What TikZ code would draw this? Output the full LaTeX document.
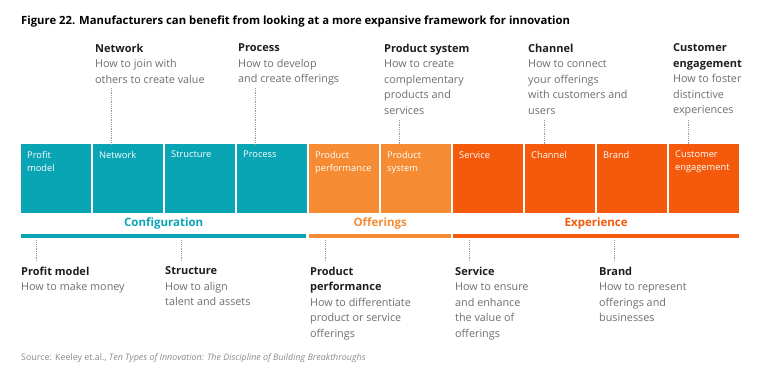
\documentclass[tikz,border=0pt]{standalone}
\usepackage{fontspec}
\setmainfont{Open Sans}
\definecolor{cfg}{HTML}{0AA5B4}
\definecolor{off}{HTML}{F58C33}
\definecolor{exp}{HTML}{F5590B}
\definecolor{desc}{HTML}{6E6E6E}
\definecolor{ttl}{HTML}{1E1E1E}
\definecolor{dotc}{HTML}{9A9A9A}
\begin{document}
\begin{tikzpicture}[x=1pt,y=-1pt,
  box/.style={minimum width=70pt, minimum height=69pt, inner sep=0pt, anchor=north west, draw=none},
  boxtxt/.style={anchor=north west, inner sep=0pt, text=white, align=left, font=\fontsize{9.3}{13}\selectfont},
  note/.style={anchor=north west, inner sep=0pt, align=left, text=desc, font=\fontsize{10.8}{15.5}\selectfont},
  bar/.style={minimum height=4pt, inner sep=0pt, anchor=north west, draw=none},
  cat/.style={anchor=base, inner sep=0pt, font=\bfseries\fontsize{11.5}{14}\selectfont},
  dots/.style={dotc, densely dotted, line width=0.8pt}
]
\newcommand{\ttlf}[1]{{\color{ttl}\bfseries\fontsize{11}{15.5}\selectfont #1}}
\useasboundingbox (0,0) rectangle (769,370);
\fill[white] (0,0) rectangle (769,370);

% heading
\node[anchor=base west, inner sep=0pt, text=black, font=\bfseries\fontsize{11.3}{13}\selectfont] (head) at (21,24)
  {Figure 22. Manufacturers can benefit from looking at a more expansive framework for innovation};

% boxes
\node[box, fill=cfg] (b1) at (21,144) {};
\node[box, fill=cfg] (b2) at (93,144) {};
\node[box, fill=cfg] (b3) at (165,144) {};
\node[box, fill=cfg] (b4) at (237,144) {};
\node[box, fill=off] (b5) at (309,144) {};
\node[box, fill=off] (b6) at (381,144) {};
\node[box, fill=exp] (b7) at (453,144) {};
\node[box, fill=exp] (b8) at (525,144) {};
\node[box, fill=exp] (b9) at (597,144) {};
\node[box, fill=exp] (b10) at (669,144) {};

\node[boxtxt] (t1) at ([xshift=6pt,yshift=-7pt]b1.north west) {Profit\\model};
\node[boxtxt] (t2) at ([xshift=6pt,yshift=-7pt]b2.north west) {Network};
\node[boxtxt] (t3) at ([xshift=6pt,yshift=-7pt]b3.north west) {Structure};
\node[boxtxt] (t4) at ([xshift=6pt,yshift=-7pt]b4.north west) {Process};
\node[boxtxt] (t5) at ([xshift=6pt,yshift=-7pt]b5.north west) {Product\\performance};
\node[boxtxt] (t6) at ([xshift=6pt,yshift=-7pt]b6.north west) {Product\\system};
\node[boxtxt] (t7) at ([xshift=6pt,yshift=-7pt]b7.north west) {Service};
\node[boxtxt] (t8) at ([xshift=6pt,yshift=-7pt]b8.north west) {Channel};
\node[boxtxt] (t9) at ([xshift=6pt,yshift=-7pt]b9.north west) {Brand};
\node[boxtxt] (t10) at ([xshift=6pt,yshift=-7pt]b10.north west) {Customer\\engagement};

% bars
\node[bar, fill=cfg, minimum width=285pt] (barC) at (21,234) {};
\node[bar, fill=off, minimum width=142pt] (barO) at (309,234) {};
\node[bar, fill=exp, minimum width=286pt] (barE) at (453,234) {};

\node[cat, text=cfg] (catC) at ([yshift=8pt]barC.north) {Configuration};
\node[cat, text=off] (catO) at ([yshift=8pt]barO.north) {Offerings};
\node[cat, text=exp] (catE) at ([yshift=8pt]barE.north) {Experience};

% top notes
\node[note] (nNet) at (95,43.5) {\ttlf{Network}\\How to join with\\others to create value};
\node[note] (nPro) at (238,43.5) {\ttlf{Process}\\How to develop\\and create offerings};
\node[note] (nSys) at (384,43.5) {\ttlf{Product system}\\How to create\\complementary\\products and\\services};
\node[note] (nCha) at (528,43.5) {\ttlf{Channel}\\How to connect\\your offerings\\with customers and\\users};
\node[note] (nCus) at (673,43.5) {\ttlf{Customer}\\\ttlf{engagement}\\How to foster\\distinctive\\experiences};

% bottom notes
\node[note] (nPm) at (21,266.5) {\ttlf{Profit model}\\How to make money};
\node[note] (nStr) at (165,266.5) {\ttlf{Structure}\\How to align\\talent and assets};
\node[note] (nPp) at (310,266.5) {\ttlf{Product}\\\ttlf{performance}\\How to differentiate\\product or service\\offerings};
\node[note] (nSer) at (455,266.5) {\ttlf{Service}\\How to ensure\\and enhance\\the value of\\offerings};
\node[note] (nBr) at (599,266.5) {\ttlf{Brand}\\How to represent\\offerings and\\businesses};

% top connectors
\coordinate (cNet) at (111,88);
\coordinate (cPro) at (255,88);
\coordinate (cSys) at (399,120);
\coordinate (cCha) at (544,120);
\coordinate (cCus) at (688,120);
\draw[dots] (cNet) -- (cNet |- b2.north);
\draw[dots] (cPro) -- (cPro |- b4.north);
\draw[dots] (cSys) -- (cSys |- b6.north);
\draw[dots] (cCha) -- (cCha |- b8.north);
\draw[dots] (cCus) -- (cCus |- b10.north);

% bottom connectors
\coordinate (dPm) at (36,262);
\coordinate (dStr) at (181,262);
\coordinate (dPp) at (325,262);
\coordinate (dSer) at (469,262);
\coordinate (dBr) at (614,262);
\draw[dots] ([yshift=-2pt]dPm |- barC.south) -- (dPm);
\draw[dots] ([yshift=-2pt]dStr |- barC.south) -- (dStr);
\draw[dots] ([yshift=-2pt]dPp |- barO.south) -- (dPp);
\draw[dots] ([yshift=-2pt]dSer |- barE.south) -- (dSer);
\draw[dots] ([yshift=-2pt]dBr |- barE.south) -- (dBr);

% source
\node[anchor=base west, inner sep=0pt, text=desc!80, font=\fontsize{8.9}{10}\selectfont] (src) at (21,360)
  {Source: Keeley et.al., \textit{Ten Types of Innovation: The Discipline of Building Breakthroughs}};
\end{tikzpicture}
\end{document}
